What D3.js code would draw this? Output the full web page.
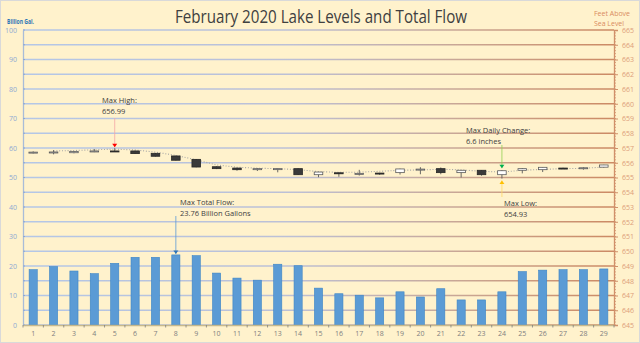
<!DOCTYPE html>
<html>
<head>
<meta charset="utf-8">
<script src="https://cdn.jsdelivr.net/npm/d3@7"></script>
<style>
html,body{margin:0;padding:0;background:#fff;}
svg{display:block;}
text{font-family:"Open Sans","Liberation Sans",sans-serif;}
</style>
</head>
<body>
<svg id="chart" width="640" height="343"></svg>
<script>
// ---- data ----
const days = d3.range(1, 30).map(String);
const totalFlow = [18.75, 19.8, 18.3, 17.4, 20.9, 22.95, 22.95, 23.76, 23.5, 17.6,
  15.9, 15.2, 20.6, 20.1, 12.5, 10.6, 10.1, 9.2, 11.25, 9.5,
  12.3, 8.5, 8.5, 11.25, 18.1, 18.6, 18.75, 18.75, 19.0];
const levelOpen = [656.67, 656.72, 656.68, 656.76, 656.80, 656.80, 656.64, 656.46, 656.23, 655.73,
  655.64, 655.53, 655.55, 655.60, 655.19, 655.32, 655.27, 655.30, 655.33, 655.55,
  655.60, 655.33, 655.49, 655.19, 655.49, 655.53, 655.64, 655.62, 655.70];
const levelHigh = [656.77, 656.86, 656.79, 656.93, 656.99, 656.82, 656.66, 656.48, 656.25, 655.76,
  655.66, 655.64, 655.62, 655.62, 655.38, 655.34, 655.52, 655.32, 655.60, 655.70,
  655.68, 655.50, 655.50, 655.50, 655.64, 655.70, 655.66, 655.70, 655.86];
const levelLow = [656.63, 656.57, 656.64, 656.72, 656.74, 656.60, 656.42, 656.15, 655.69, 655.57,
  655.46, 655.44, 655.35, 655.17, 655.02, 655.05, 655.13, 655.18, 655.20, 655.22,
  655.22, 655.00, 655.12, 654.93, 655.28, 655.37, 655.60, 655.53, 655.68];
const levelClose = [656.72, 656.73, 656.76, 656.80, 656.79, 656.62, 656.44, 656.17, 655.71, 655.60,
  655.53, 655.60, 655.60, 655.19, 655.37, 655.27, 655.28, 655.25, 655.58, 655.57,
  655.33, 655.49, 655.19, 655.46, 655.60, 655.69, 655.62, 655.66, 655.85];
const levelTrend = [null, 656.80, 656.83, 656.88, 656.92, 656.87, 656.72, 656.50, 656.20, 655.85,
  655.70, 655.63, 655.60, 655.53, 655.40, 655.35, 655.36, 655.42, 655.49, 655.51,
  655.56, 655.52, 655.42, 655.37, 655.49, 655.55, 655.60, 655.62, 655.71];
const leftTicks = [0, 10, 20, 30, 40, 50, 60, 70, 80, 90, 100];
const rightTicks = d3.range(645, 666);

// ---- layout ----
const W = 640, H = 343;
const L = 23, R = 614, T = 30, B = 325;
const svg = d3.select("#chart");

svg.append("rect").attr("x", 0.5).attr("y", 0.5).attr("width", W - 1).attr("height", H - 1)
  .attr("fill", "#fff2cc").attr("stroke", "#d9d9d9");

const x = d3.scaleBand().domain(days).range([L, R]).paddingInner(0).paddingOuter(0);
const yL = d3.scaleLinear().domain([0, 100]).range([B, T]);
const yR = d3.scaleLinear().domain([645, 665]).range([B, T]);

// gradient for gridlines
const defs = svg.append("defs");
const grad = defs.append("linearGradient").attr("id", "gridGrad")
  .attr("gradientUnits", "userSpaceOnUse").attr("x1", L).attr("x2", R).attr("y1", 0).attr("y2", 0);
grad.append("stop").attr("offset", "0").attr("stop-color", "#b4c7e7");
grad.append("stop").attr("offset", "0.45").attr("stop-color", "#bcc0d6");
grad.append("stop").attr("offset", "0.75").attr("stop-color", "#c9a592");
grad.append("stop").attr("offset", "1").attr("stop-color", "#cc8a64");

// gridlines every 1 ft (= 5 billion gal)
svg.append("g").selectAll("line").data(rightTicks).join("line")
  .attr("x1", L).attr("x2", R)
  .attr("y1", d => yR(d)).attr("y2", d => yR(d))
  .attr("stroke", "url(#gridGrad)").attr("stroke-width", 1.3);

// left axis
const gL = svg.append("g").attr("transform", `translate(${L},0)`)
  .call(d3.axisLeft(yL).tickValues(leftTicks).tickSize(0).tickPadding(6));
gL.select(".domain").attr("stroke", "#a9bcd8").attr("stroke-width", 1.3);
gL.selectAll("text").attr("fill", "#8ea9d3").attr("font-size", 7);
svg.append("g").selectAll("line").data(d3.range(0, 101, 5)).join("line")
  .attr("x1", L).attr("x2", L + 2).attr("y1", d => yL(d)).attr("y2", d => yL(d))
  .attr("stroke", "#8ea9d3");

// right axis
const gR = svg.append("g").attr("transform", `translate(${R},0)`)
  .call(d3.axisRight(yR).tickValues(rightTicks).tickSize(4).tickPadding(4).tickFormat(d3.format("d")));
gR.select(".domain").attr("stroke", "#d0906a").attr("stroke-width", 1.3);
gR.selectAll(".tick line").attr("stroke", "#d0906a");
gR.selectAll("text").attr("fill", "#dd9e7a").attr("font-size", 7);
svg.append("g").selectAll("line").data(d3.range(0, 100)).join("line")
  .attr("x1", R).attr("x2", R + 2)
  .attr("y1", d => yR(645 + d * 0.2)).attr("y2", d => yR(645 + d * 0.2))
  .attr("stroke", "#d0906a").attr("stroke-width", 0.8);

// bars
svg.append("g").selectAll("rect").data(totalFlow).join("rect")
  .attr("x", (d, i) => x(days[i]) + x.bandwidth() * 0.3)
  .attr("width", x.bandwidth() * 0.4)
  .attr("y", d => yL(d))
  .attr("height", d => yL(0) - yL(d))
  .attr("fill", "#5b9bd5").attr("stroke", "#3d85c6").attr("stroke-width", 0.6);

// x axis
const gX = svg.append("g").attr("transform", `translate(0,${B})`)
  .call(d3.axisBottom(x).tickSize(0).tickPadding(6));
gX.select(".domain").attr("stroke", "#c7b98c").attr("stroke-width", 1.5);
gX.selectAll("text").attr("fill", "#808080").attr("font-size", 7);
svg.append("g").selectAll("line").data(d3.range(0, 30)).join("line")
  .attr("x1", d => L + d * x.step()).attr("x2", d => L + d * x.step())
  .attr("y1", B).attr("y2", B + 2.5).attr("stroke", "#7f7f7f").attr("stroke-width", 0.8);

// trend line
const line = d3.line().defined(d => d != null)
  .x((d, i) => x(days[i]) + x.bandwidth() / 2).y(d => yR(d));
svg.append("path").datum(levelTrend).attr("d", line)
  .attr("fill", "none").attr("stroke", "#a6a6a6").attr("stroke-width", 1.1)
  .attr("stroke-dasharray", "1,1.8");

// candlesticks
const cg = svg.append("g");
days.forEach((d, i) => {
  const cx = x(d) + x.bandwidth() / 2;
  const bw = x.bandwidth() * 0.42;
  cg.append("line").attr("x1", cx).attr("x2", cx)
    .attr("y1", yR(levelHigh[i])).attr("y2", yR(levelLow[i]))
    .attr("stroke", "#595959").attr("stroke-width", 0.9);
  const o = levelOpen[i], c = levelClose[i];
  const up = c >= o;
  const top = yR(Math.max(o, c)), bot = yR(Math.min(o, c));
  cg.append("rect").attr("x", cx - bw / 2).attr("width", bw)
    .attr("y", top).attr("height", Math.max(1, bot - top))
    .attr("fill", up ? "#ffffff" : "#3a3a3a")
    .attr("stroke", up ? "#595959" : "#262626").attr("stroke-width", 0.8);
});

// title and axis titles
svg.append("text").attr("x", 321).attr("y", 23).attr("text-anchor", "middle")
  .attr("font-size", 17.5).attr("fill", "#404040")
  .attr("textLength", 292).attr("lengthAdjust", "spacingAndGlyphs")
  .text("February 2020 Lake Levels and Total Flow");
svg.append("text").attr("x", 7).attr("y", 24).attr("font-size", 7.5).attr("font-weight", "bold")
  .attr("fill", "#2e75b6").attr("textLength", 27).attr("lengthAdjust", "spacingAndGlyphs")
  .text("Billion Gal.");
svg.append("text").attr("x", 594).attr("y", 16).attr("font-size", 7.5)
  .attr("fill", "#d98c5f").attr("textLength", 36).attr("lengthAdjust", "spacingAndGlyphs")
  .text("Feet Above");
svg.append("text").attr("x", 594).attr("y", 26).attr("font-size", 7.5)
  .attr("fill", "#d98c5f").attr("textLength", 30).attr("lengthAdjust", "spacingAndGlyphs")
  .text("Sea Level");

// annotations
function note(tx, ty, lines) {
  lines.forEach((t, k) => {
    svg.append("text").attr("x", tx).attr("y", ty + k * 11).attr("font-size", 7.5)
      .attr("fill", "#404040").text(t);
  });
}
function arrow(ax, y1, y2, lineColor, headColor) {
  svg.append("line").attr("x1", ax).attr("x2", ax).attr("y1", y1).attr("y2", y2)
    .attr("stroke", lineColor).attr("stroke-width", 0.8);
  const dir = y2 > y1 ? 1 : -1;
  svg.append("path")
    .attr("d", `M${ax - 2.5},${y2 - dir * 3.5}L${ax + 2.5},${y2 - dir * 3.5}L${ax},${y2}Z`)
    .attr("fill", headColor);
}
const c5 = x("5") + x.bandwidth() / 2;
const c8 = x("8") + x.bandwidth() / 2;
const c24 = x("24") + x.bandwidth() / 2;
note(102, 103, ["Max High:", "656.99"]);
arrow(c5, 118, yR(656.99) - 1, "#f4a6a6", "#ff0000");
note(466, 133, ["Max Daily Change:", "6.6 inches"]);
arrow(c24, 145, yR(levelHigh[23]) - 2, "#92d050", "#00b050");
note(180, 205, ["Max Total Flow:", "23.76 Billion Gallons"]);
arrow(c8, 216, yL(23.76) - 1, "#5b9bd5", "#2e75b6");
note(504, 206, ["Max Low:", "654.93"]);
arrow(c24, 197, yR(654.93) + 2, "#ffd966", "#ffc000");
</script>
</body>
</html>
